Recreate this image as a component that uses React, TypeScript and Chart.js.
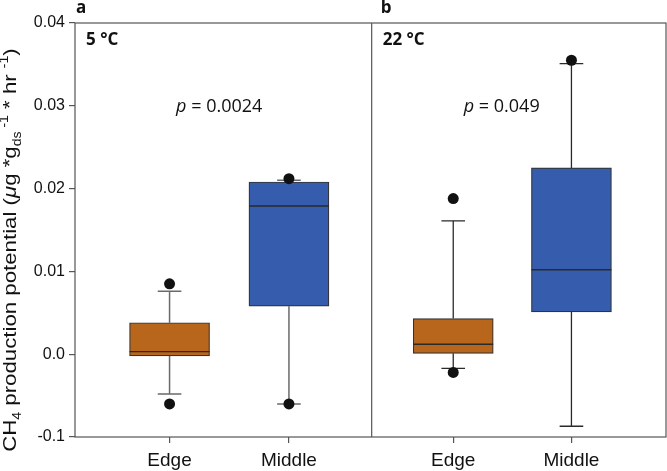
import React, { useEffect, useRef } from "react";
import { Chart, registerables } from "chart.js";
Chart.register(...registerables);

// ---------- data ----------
const CATEGORIES = ["Edge", "Middle"];
const PANEL_LETTERS = ["a", "b"];
const PANEL_TEMPS = ["5 °C", "22 °C"];
const P_VALUES = ["0.0024", "0.049"];
const Y_TICK_VALUES = [-0.01, 0, 0.01, 0.02, 0.03, 0.04];
const Y_TICK_LABELS = ["-0.1", "0.0", "0.01", "0.02", "0.03", "0.04"];

// groups: a-Edge, a-Middle, b-Edge, b-Middle
const GROUP_POS = [0.8, 1.81, 3.2, 4.2];
const GROUP_PANEL = [0, 0, 1, 1];
const WHISKER_LOW = [-0.0048, -0.006, -0.0017, -0.0087];
const Q1 = [-0.0002, 0.0058, 0.0001, 0.0051];
const MEDIAN = [0.0003, 0.0179, 0.0012, 0.0102];
const Q3 = [0.0038, 0.0208, 0.0043, 0.0225];
const WHISKER_HIGH = [0.0076, 0.021, 0.0161, 0.0351];
const OUTLIERS = [[0.0085, -0.006], [0.0212, -0.006], [0.0188, -0.0022], [0.0355]];

const X_MIN = 0;
const X_MAX = 5;
const PANEL_SPLIT = 2.51;
const P_POS = [1.22, 3.61];
const P_Y = 0.03;

// ---------- style ----------
const BOX_COLORS = ["#B9661D", "#365CAD", "#B9661D", "#365CAD"];
const WHISKER_COLORS = ["#6a6a6a", "#2a2a2a"];
const BOX_PX = 80;
const BOX_HALF = 0.338; // in x units (half box width)
const CAP_HALF = 0.1;
const FRAME_COLOR = "#555";

const TITLE_SEGMENTS = [
  { t: "CH", k: "n" },
  { t: "4", k: "sub" },
  { t: " production potential (", k: "n" },
  { t: "\u03bc", k: "i" },
  { t: "g *g", k: "n" },
  { t: "ds", k: "sub" },
  { t: " -1", k: "sup" },
  { t: " * hr ", k: "n" },
  { t: "-1", k: "sup" },
  { t: ")", k: "n" },
];

function buildWhiskers(panel: number) {
  const pts: any[] = [];
  GROUP_POS.forEach((x, i) => {
    if (GROUP_PANEL[i] !== panel) return;
    pts.push({ x, y: WHISKER_LOW[i] }, { x, y: Q1[i] }, { x, y: null });
    pts.push({ x, y: Q3[i] }, { x, y: WHISKER_HIGH[i] }, { x, y: null });
    pts.push({ x: x - CAP_HALF, y: WHISKER_LOW[i] }, { x: x + CAP_HALF, y: WHISKER_LOW[i] }, { x, y: null });
    pts.push({ x: x - CAP_HALF, y: WHISKER_HIGH[i] }, { x: x + CAP_HALF, y: WHISKER_HIGH[i] }, { x, y: null });
  });
  return pts;
}

function buildMedians() {
  const pts: any[] = [];
  GROUP_POS.forEach((x, i) => {
    pts.push({ x: x - BOX_HALF, y: MEDIAN[i] }, { x: x + BOX_HALF, y: MEDIAN[i] }, { x, y: null });
  });
  return pts;
}

const annotPlugin = {
  id: "annot",
  afterDraw(chart: any) {
    const { ctx, chartArea: ca, scales } = chart;
    const xs = scales.x;
    const ys = scales.y;
    ctx.save();
    // frame
    ctx.strokeStyle = FRAME_COLOR;
    ctx.lineWidth = 1.2;
    ctx.strokeRect(ca.left, ca.top, ca.right - ca.left, ca.bottom - ca.top);
    const sx = xs.getPixelForValue(PANEL_SPLIT);
    ctx.beginPath();
    ctx.moveTo(sx, ca.top);
    ctx.lineTo(sx, ca.bottom);
    ctx.stroke();

    const panelLefts = [ca.left, sx];
    ctx.fillStyle = "#111";
    ctx.textBaseline = "alphabetic";
    ctx.textAlign = "left";
    PANEL_LETTERS.forEach((l, i) => {
      ctx.font = "bold 17px 'Open Sans'";
      ctx.fillText(l, panelLefts[i] + 1 + i * 8, 13);
    });
    PANEL_TEMPS.forEach((t, i) => {
      ctx.font = "bold 17px 'Open Sans'";
      ctx.fillText(t, panelLefts[i] + 11, ca.top + 22);
    });
    // p-values
    P_VALUES.forEach((v, i) => {
      const cx = xs.getPixelForValue(P_POS[i]);
      const cy = ys.getPixelForValue(P_Y) + 6;
      ctx.font = "italic 18px 'Open Sans'";
      const pw = ctx.measureText("p").width;
      ctx.font = "18px 'Open Sans'";
      const rest = " = " + v;
      const rw = ctx.measureText(rest).width;
      const x0 = cx - (pw + rw) / 2;
      ctx.font = "italic 18px 'Open Sans'";
      ctx.fillText("p", x0, cy);
      ctx.font = "18px 'Open Sans'";
      ctx.fillText(rest, x0 + pw, cy);
    });

    // y title
    const big = 19;
    const small = 12;
    const fontFor = (k: string) =>
      k === "i" ? `italic ${big}px 'Liberation Sans'` : k === "n" ? `${big}px 'Liberation Sans'` : `${small}px 'Liberation Sans'`;
    let total = 0;
    TITLE_SEGMENTS.forEach((s) => {
      ctx.font = fontFor(s.k);
      total += ctx.measureText(s.t).width;
    });
    const stretch = 1.17;
    ctx.translate(16, 250);
    ctx.rotate(-Math.PI / 2);
    ctx.scale(stretch, 1);
    let x = -total / 2;
    TITLE_SEGMENTS.forEach((s) => {
      ctx.font = fontFor(s.k);
      const dy = s.k === "sub" ? 5 : s.k === "sup" ? -8 : 0;
      ctx.fillText(s.t, x, dy);
      x += ctx.measureText(s.t).width;
    });
    ctx.restore();
  },
};

export default function App() {
  const ref = useRef<HTMLCanvasElement | null>(null);
  useEffect(() => {
    if (!ref.current) return;
    const outlierPts: any[] = [];
    OUTLIERS.forEach((arr, i) => arr.forEach((v) => outlierPts.push({ x: GROUP_POS[i], y: v })));
    const chart = new Chart(ref.current, {
      type: "bar",
      data: {
        datasets: [
          {
            type: "scatter",
            data: outlierPts,
            pointRadius: 5.5,
            pointBackgroundColor: "#111",
            pointBorderWidth: 0,
            order: 1,
          } as any,
          {
            type: "line",
            data: buildMedians(),
            borderColor: "#2a2a2a",
            borderWidth: 1.3,
            pointRadius: 0,
            spanGaps: false,
            order: 2,
          } as any,
          {
            type: "bar",
            data: GROUP_POS.map((x, i) => ({ x, y: [Q1[i], Q3[i]] })),
            backgroundColor: BOX_COLORS,
            borderColor: "#333",
            borderWidth: 1.2,
            borderSkipped: false,
            barThickness: BOX_PX,
            grouped: false,
            order: 3,
          } as any,
          {
            type: "line",
            data: buildWhiskers(0),
            borderColor: WHISKER_COLORS[0],
            borderWidth: 1.5,
            pointRadius: 0,
            spanGaps: false,
            order: 4,
          } as any,
          {
            type: "line",
            data: buildWhiskers(1),
            borderColor: WHISKER_COLORS[1],
            borderWidth: 1.3,
            pointRadius: 0,
            spanGaps: false,
            order: 5,
          } as any,
        ],
      },
      options: {
        animation: false,
        responsive: true,
        maintainAspectRatio: false,
        layout: { autoPadding: false, padding: { top: 23, right: 1, left: 0, bottom: 0 } },
        plugins: { legend: { display: false }, tooltip: { enabled: false } },
        scales: {
          x: {
            type: "linear",
            min: X_MIN,
            max: X_MAX,
            offset: false,
            afterBuildTicks: (s: any) => {
              s.ticks = GROUP_POS.map((v) => ({ value: v }));
            },
            afterFit: (s: any) => {
              s.height = 34;
              s.paddingLeft = 0;
              s.paddingRight = 0;
            },
            ticks: {
              callback: (_v: any, i: number) => CATEGORIES[i % 2],
              autoSkip: false,
              maxRotation: 0,
              padding: 6,
              color: "#111",
              font: { family: "'Liberation Sans'", size: 19 },
            },
            grid: { offset: false, drawOnChartArea: false, drawTicks: true, tickLength: 6, color: FRAME_COLOR, lineWidth: 1.2 },
            border: { display: false },
          },
          y: {
            type: "linear",
            min: -0.01,
            max: 0.04,
            afterBuildTicks: (s: any) => {
              s.ticks = Y_TICK_VALUES.map((v) => ({ value: v }));
            },
            afterFit: (s: any) => {
              s.width = 75;
            },
            ticks: {
              callback: (_v: any, i: number) => Y_TICK_LABELS[i],
              padding: 4,
              color: "#111",
              font: { family: "'Liberation Sans'", size: 16 },
            },
            grid: { drawOnChartArea: false, drawTicks: true, tickLength: 6, color: FRAME_COLOR, lineWidth: 1.2 },
            border: { display: false },
          },
        },
      } as any,
      plugins: [annotPlugin],
    });
    return () => chart.destroy();
  }, []);
  return (
    <div style={{ position: "fixed", left: 0, top: 0, width: 667, height: 471, background: "#fff" }}>
      <canvas ref={ref} />
    </div>
  );
}
